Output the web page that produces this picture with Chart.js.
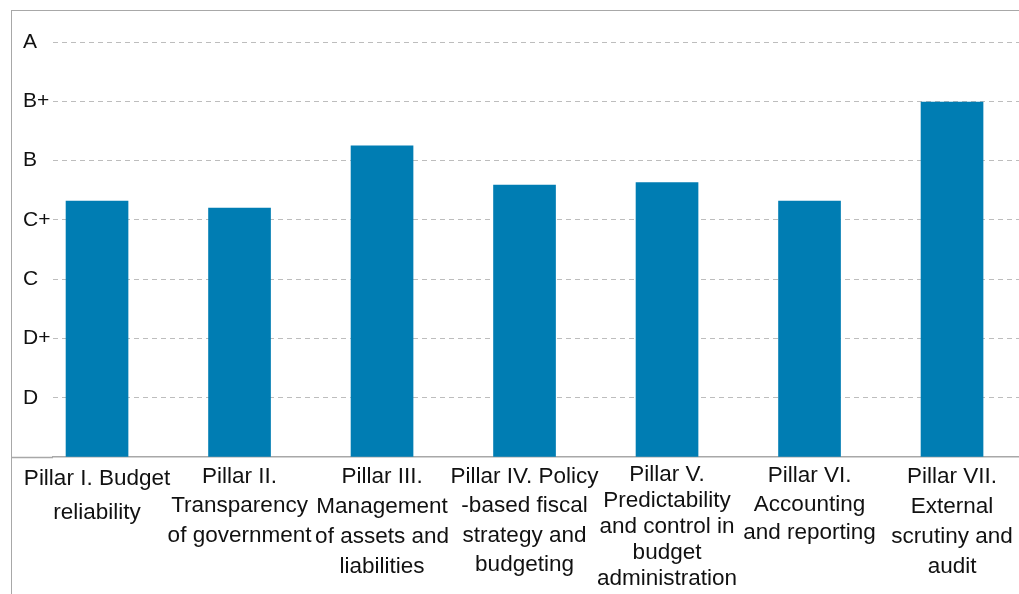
<!DOCTYPE html>
<html>
<head>
<meta charset="utf-8">
<script src="https://cdn.jsdelivr.net/npm/chart.js@4.4.1/dist/chart.umd.min.js"></script>
<style>
  html, body { margin: 0; padding: 0; background: #fff; overflow: hidden; }
  #wrap { position: relative; width: 1019px; height: 594px; }
  #frame { position: absolute; left: 11px; top: 10px; width: 1100px; height: 700px;
           border-top: 1.5px solid #a8a8a8; border-left: 1.5px solid #a8a8a8; }
  #box { position: absolute; left: 0; top: 0; width: 1019px; height: 594px; }
</style>
</head>
<body>
<div id="wrap">
  <div id="frame"></div>
  <div id="box"><canvas id="c"></canvas></div>
</div>
<script>
const categories = [
  ["Pillar I. Budget", "reliability"],
  ["Pillar II.", "Transparency", "of government"],
  ["Pillar III.", "Management", "of assets and", "liabilities"],
  ["Pillar IV. Policy", "-based fiscal", "strategy and", "budgeting"],
  ["Pillar V.", "Predictability", "and control in", "budget", "administration"],
  ["Pillar VI.", "Accounting", "and reporting"],
  ["Pillar VII.", "External", "scrutiny and", "audit"]
];
const scores = [4.32, 4.20, 5.25, 4.59, 4.63, 4.32, 5.99];
const gradeLabels = ["", "D", "D+", "C", "C+", "B", "B+", "A"];
const labelLineHeights = [34, 29.5, 30, 29.5, 26, 28.5, 30];

const FONT = "'Liberation Sans', Arial, Helvetica, sans-serif";
const AXIS_COLOR = '#a8a8a8';

new Chart(document.getElementById('c'), {
  type: 'bar',
  data: {
    datasets: [{
      data: scores.map((v, i) => ({ x: i, y: v })),
      backgroundColor: '#007db3',
      borderWidth: 0,
      barThickness: 62
    }]
  },
  options: {
    responsive: true,
    maintainAspectRatio: false,
    animation: false,
    layout: { padding: { left: 23, top: 12.5, right: 0, bottom: 0 } },
    plugins: { legend: { display: false }, tooltip: { enabled: false } },
    scales: {
      x: {
        type: 'linear',
        offset: false,
        min: -0.309,
        max: 6.47,
        grid: { display: false, drawTicks: false, offset: false },
        border: { display: true, color: AXIS_COLOR, width: 1.5 },
        ticks: {
          stepSize: 1,
          includeBounds: false,
          autoSkip: false,
          maxRotation: 0,
          minRotation: 0,
          padding: 5,
          color: '#111',
          font: (ctx) => {
            const v = ctx.tick ? Math.round(ctx.tick.value) : 0;
            const lh = labelLineHeights[v] !== undefined ? labelLineHeights[v] : 29.5;
            return { family: FONT, size: 22.5, lineHeight: lh + 'px' };
          },
          callback: (value) => {
            const i = Math.round(value);
            if (Math.abs(value - i) > 1e-6 || i < 0 || i >= categories.length) return '';
            return categories[i];
          }
        },
        afterFit: (scale) => { scale.height = 137; scale.paddingLeft = 0; scale.paddingRight = 0; }
      },
      y: {
        type: 'linear',
        min: 0,
        max: 7.5,
        border: { display: false, dash: [5, 4] },
        grid: {
          drawTicks: true,
          tickLength: 42,
          color: (ctx) => {
            const v = ctx.tick ? ctx.tick.value : 0;
            return (v >= 1 && Number.isInteger(v)) ? '#bdbdbd' : 'rgba(0,0,0,0)';
          },
          tickColor: (ctx) => {
            const v = ctx.tick ? ctx.tick.value : -1;
            return v === 0 ? AXIS_COLOR : 'rgba(0,0,0,0)';
          },
          tickWidth: 1.5,
          tickBorderDash: [],
          lineWidth: 1
        },
        ticks: {
          stepSize: 1,
          includeBounds: false,
          crossAlign: 'far',
          padding: 0,
          color: '#111',
          font: { family: FONT, size: 21 },
          callback: (value) => {
            const i = Math.round(value);
            return (Math.abs(value - i) < 1e-6 && gradeLabels[i] !== undefined) ? gradeLabels[i] : '';
          }
        },
        afterFit: (scale) => { scale.width = 30; scale.paddingTop = 0; scale.paddingBottom = 0; }
      }
    }
  }
});
</script>
</body>
</html>
